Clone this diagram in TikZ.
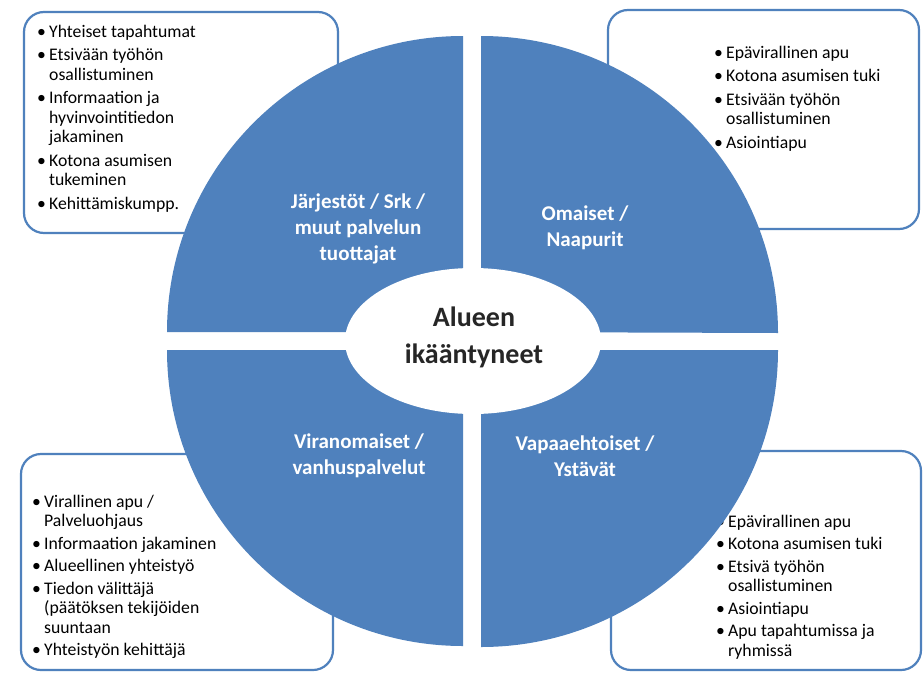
\documentclass[tikz,border=0pt]{standalone}
\usepackage{fontspec}
\setmainfont{Carlito}
\usetikzlibrary{shapes.geometric}
\definecolor{qblue}{HTML}{4F81BD}
\definecolor{ctext}{HTML}{262626}
\newcommand{\bl}[1]{\makebox[12pt][l]{\textbullet}#1}
\newcommand{\cl}[1]{\hspace*{12pt}#1}
\begin{document}
\begin{tikzpicture}[x=1pt,y=1pt,
  infobox/.style={draw=qblue,line width=2.2pt,fill=white,rounded corners=20pt},
  quad/.style={fill=qblue},
  qlabel/.style={text=white,font=\fontsize{21}{26}\selectfont\bfseries,align=center,inner sep=0pt},
  listtext/.style={anchor=base west,inner sep=0pt,font=\fontsize{17.7}{19.5}\selectfont}]
\useasboundingbox[fill=white] (0,0) rectangle (923,-672);
% boxes
\draw[infobox] (24,-12) rectangle (338,-233);
\draw[infobox] (608,-10) rectangle (919,-229);
\draw[infobox] (21,-454) rectangle (333,-670);
\draw[infobox] (611,-451) rectangle (921,-670);
% box texts
\node[listtext] (tl) at (37,-37) {\begin{tabular}[t]{@{}l@{}}
\bl{Yhteiset tapahtumat}\\[4pt]
\bl{Etsivään työhön}\\
\cl{osallistuminen}\\[4pt]
\bl{Informaation ja}\\
\cl{hyvinvointitiedon}\\
\cl{jakaminen}\\[4pt]
\bl{Kotona asumisen}\\
\cl{tukeminen}\\[4pt]
\bl{Kehittämiskumpp.}
\end{tabular}};
\node[listtext] (tr) at (714,-58) {\begin{tabular}[t]{@{}l@{}}
\bl{Epävirallinen apu}\\[4pt]
\bl{Kotona asumisen tuki}\\[4pt]
\bl{Etsivään työhön}\\
\cl{osallistuminen}\\[4pt]
\bl{Asiointiapu}
\end{tabular}};
\node[listtext] (bl) at (32,-507) {\begin{tabular}[t]{@{}l@{}}
\bl{Virallinen apu /}\\
\cl{Palveluohjaus}\\[3pt]
\bl{Informaation jakaminen}\\[3pt]
\bl{Alueellinen yhteistyö}\\[3pt]
\bl{Tiedon välittäjä}\\
\cl{(päätöksen tekijöiden}\\
\cl{suuntaan}\\[3pt]
\bl{Yhteistyön kehittäjä}
\end{tabular}};
\node[listtext] (br) at (716,-527) {\begin{tabular}[t]{@{}l@{}}
\bl{Epävirallinen apu}\\[3pt]
\bl{Kotona asumisen tuki}\\[3pt]
\bl{Etsivä työhön}\\
\cl{osallistuminen}\\[3pt]
\bl{Asiointiapu}\\[3pt]
\bl{Apu tapahtumissa ja}\\
\cl{ryhmissä}
\end{tabular}};
% quadrants
\fill[quad] (463,-332) -- (167,-332) arc[start angle=180,end angle=90,radius=296] -- cycle;
\fill[quad] (481,-332) -- (481,-36) arc[start angle=90,end angle=0,radius=297] -- cycle;
\fill[quad] (463,-350) -- (167,-350) arc[start angle=180,end angle=270,radius=296] -- cycle;
\fill[quad] (481,-350) -- (778,-350) arc[start angle=0,end angle=-90,radius=297] -- cycle;
% centre
\node[ellipse,fill=white,minimum width=256pt,minimum height=146pt,inner sep=0pt] (c) at (473,-341) {};
\node[text=ctext,font=\fontsize{28}{37}\selectfont\bfseries,align=center,inner sep=0pt] (ct) at (474,-337) {Alueen\\ikääntyneet};
% labels
\node[qlabel] (q1) at (358,-229) {Järjestöt / Srk /\\muut palvelun\\tuottajat};
\node[qlabel] (q2) at (585,-228) {Omaiset /\\Naapurit};
\node[qlabel] (q3) at (359,-456) {Viranomaiset /\\vanhuspalvelut};
\node[qlabel] (q4) at (585,-456) {Vapaaehtoiset /\\Ystävät};
\end{tikzpicture}
\end{document}
